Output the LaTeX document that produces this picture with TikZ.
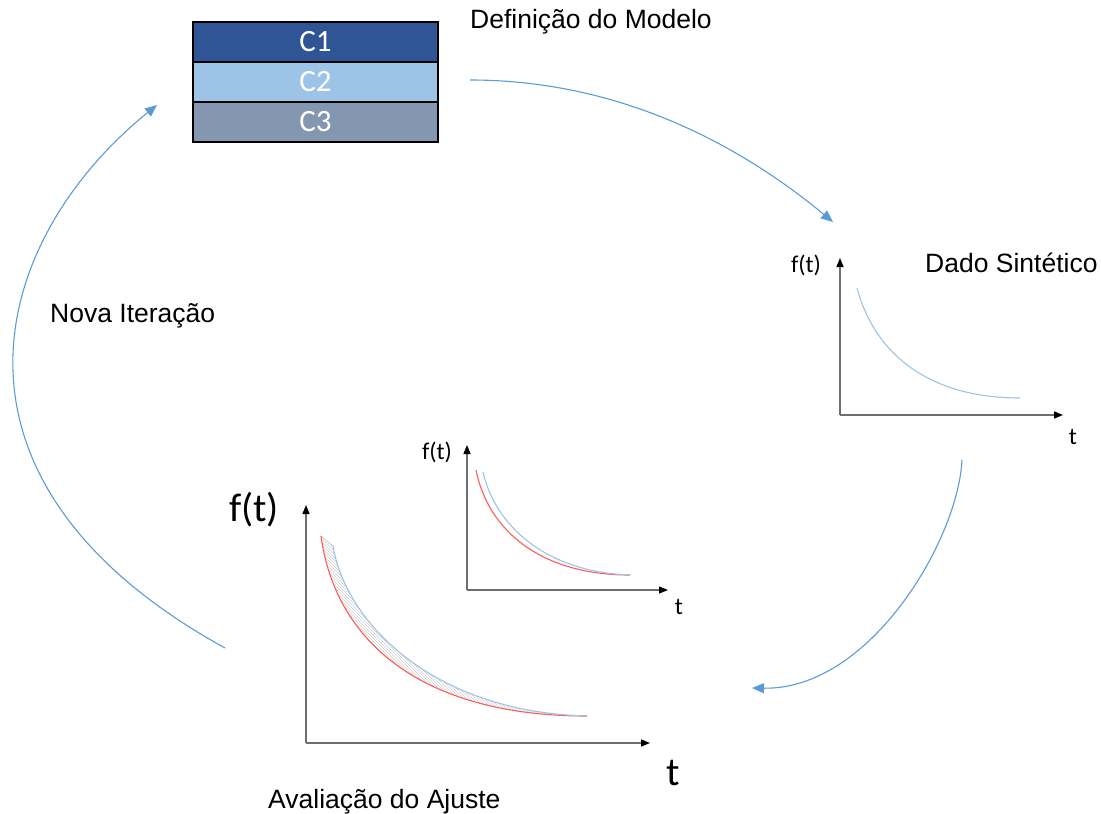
\documentclass[tikz,border=0pt]{standalone}
\usepackage{fontspec}
\setmainfont{Liberation Sans}
\newfontfamily\calibfont{Carlito}
\usetikzlibrary{arrows.meta,patterns,positioning}

\definecolor{cone}{HTML}{2F5597}
\definecolor{ctwo}{HTML}{9DC3E6}
\definecolor{cthree}{HTML}{8497B0}
\definecolor{flowblue}{HTML}{5B9BD5}
\definecolor{synblue}{HTML}{9DC3E6}
\definecolor{fitred}{HTML}{FF5B5B}
\definecolor{axisgray}{HTML}{6E6E6E}
\definecolor{hatchgray}{HTML}{CFCFCF}

\tikzset{
  cbox/.style={draw=black, line width=1.5pt, minimum width=245pt, minimum height=40pt,
    inner sep=0pt, outer sep=0pt, text=white, font=\calibfont\fontsize{31}{33}\selectfont},
  lbl/.style={anchor=west, inner sep=0pt, font=\fontsize{26.5}{30}\selectfont},
  flow/.style={draw=flowblue, line width=1.1pt, -{Triangle[width=10pt,length=12pt]}},
  axis/.style={draw=axisgray, line width=1.4pt, -{Triangle[width=7pt,length=9pt,color=black]}},
  smalllbl/.style={inner sep=0pt, font=\calibfont\fontsize{24}{26}\selectfont},
  biglbl/.style={inner sep=0pt, font=\calibfont\fontsize{40}{42}\selectfont},
  syncurve/.style={draw=synblue, line width=1.1pt},
  fitcurve/.style={draw=fitred, line width=1.1pt}
}

\begin{document}
\begin{tikzpicture}[x=1pt,y=-1pt]
    \useasboundingbox (0,0) rectangle (1101,814);

    % Model definition
    \node[cbox, fill=cone] (c1) at (315.5,42) {C1};
    \node[cbox, fill=ctwo, below=0pt of c1] (c2) {C2};
    \node[cbox, fill=cthree, below=0pt of c2] (c3) {C3};

    % Labels
    \node[lbl] (defin) at (470,22) {Definição do Modelo};
    \node[lbl] (dado) at (925,263) {Dado Sintético};
    \node[lbl] (nova) at (50,316) {Nova Iteração};
    \node[lbl] (aval) at (268,802) {Avaliação do Ajuste};

    % Coordinates
    \coordinate (defout) at (470,80);
    \coordinate (synin) at (833,222);
    \coordinate (synout) at (962,460);
    \coordinate (evalin) at (752,688);
    \coordinate (evalout) at (225,648);
    \coordinate (defin2) at (157,105);

    \coordinate (oA) at (840,415);
    \coordinate (yA) at (840,258);
    \coordinate (xA) at (1063,415);
    \coordinate (oB) at (467,590);
    \coordinate (yB) at (467,445);
    \coordinate (xB) at (668,590);
    \coordinate (oC) at (306,743);
    \coordinate (yC) at (306,505);
    \coordinate (xC) at (650,743);

    % Flow
    \draw[flow] (defout) .. controls (620,80) and (740,145) .. (synin);
    \draw[flow] (synout) .. controls (958,540) and (870,690) .. (evalin);
    \draw[flow] (evalout) .. controls (-80,480) and (-10,240) .. (defin2);

    % Synthetic data
    \draw[axis] (oA) -- (yA);
    \draw[axis] (oA) -- (xA);
    \node[smalllbl] (fA) at (806,265) {f(t)};
    \node[smalllbl] (tA) at (1073,437) {t};
    \draw[syncurve] (857,288) .. controls (875,355) and (930,398) .. (1020,398);

    % Small fit
    \draw[axis] (oB) -- (yB);
    \draw[axis] (oB) -- (xB);
    \node[smalllbl] (fB) at (437,452) {f(t)};
    \node[smalllbl] (tB) at (679,607) {t};
    \draw[fitcurve] (476,470) .. controls (488,530) and (540,575) .. (630,575);
    \draw[syncurve] (483,472) .. controls (495,525) and (545,572) .. (630,575);

    % Big fit
    \draw[axis] (oC) -- (yC);
    \draw[axis] (oC) -- (xC);
    \node[biglbl] (fC) at (254,510) {f(t)};
    \node[biglbl] (tC) at (673,773) {t};
    \fill[pattern=north west lines, pattern color=hatchgray]
        (321,536) .. controls (335,640) and (420,716) .. (587,716)
        .. controls (430,712) and (345,620) .. (333,546) -- cycle;
    \draw[hatchgray, line width=0.8pt] (321,536) -- (333,546);
    \draw[fitcurve] (321,536) .. controls (335,640) and (420,716) .. (587,716);
    \draw[syncurve] (333,546) .. controls (345,620) and (430,712) .. (587,716);
\end{tikzpicture}
\end{document}
